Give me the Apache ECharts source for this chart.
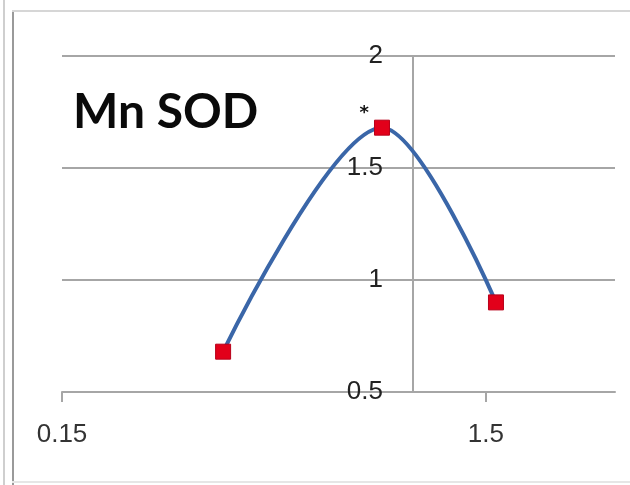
<!DOCTYPE html>
<html>
<head>
<meta charset="utf-8">
<script src="https://cdn.jsdelivr.net/npm/echarts@6/dist/echarts.min.js"></script>
<style>
html,body{margin:0;padding:0;background:#fff;}
#chart{width:630px;height:485px;}
</style>
</head>
<body>
<div id="chart"></div>
<script>
// Data
const titleText = 'Mn SOD';
const xTickValues = [0.15, 1.5];
const xValues = [0.663, 1.169, 1.532];
const yValues = [0.68, 1.68, 0.9];
const markedIndex = 1;      // point carrying the "*" marker
const yMin = 0.5, yMax = 2, yStep = 0.5;
const xMin = 0.15, xMax = 1.911;

const chart = echarts.init(document.getElementById('chart'), null, {renderer: 'canvas'});

const seriesData = xValues.map((x, i) => {
  const item = {value: [x, yValues[i]]};
  if (i === markedIndex) {
    item.label = {show: true, formatter: '*', position: 'left', offset: [0, -14],
      color: '#111', fontSize: 18, fontWeight: 'bold', fontFamily: 'DejaVu Sans'};
  }
  return item;
});

chart.setOption({
  backgroundColor: '#ffffff',
  animation: false,
  title: {
    text: titleText,
    left: 68, top: 84,
    textStyle: {fontFamily: 'Lato', fontWeight: 'bold', fontSize: 48, color: '#0a0a0a'}
  },
  grid: {left: 62, right: 15, top: 56, bottom: 93, containLabel: false},
  xAxis: {
    type: 'value',
    min: xMin, max: xMax,
    splitLine: {show: false},
    axisLine: {show: true, onZero: false, lineStyle: {color: '#a6a6a6', width: 2}},
    axisTick: {show: true, customValues: xTickValues, length: 10, lineStyle: {color: '#a6a6a6', width: 2}},
    axisLabel: {show: true, customValues: xTickValues, margin: 30, color: '#333',
      fontSize: 26, fontFamily: 'Liberation Sans', formatter: v => String(v)}
  },
  yAxis: {
    type: 'value',
    min: yMin, max: yMax, interval: yStep,
    position: 'left',
    offset: -351,
    axisLine: {show: true, lineStyle: {color: '#a6a6a6', width: 2}},
    axisTick: {show: false},
    splitLine: {show: true, lineStyle: {color: '#a6a6a6', width: 2}},
    axisLabel: {show: true, margin: 30, color: '#222', fontSize: 26, fontFamily: 'Liberation Sans',
      formatter: v => String(v)}
  },
  series: [{
    type: 'line',
    data: seriesData,
    smooth: 0.32,
    symbol: 'rect',
    symbolSize: 15,
    itemStyle: {color: '#e2001a', borderColor: '#b8001a', borderWidth: 1},
    lineStyle: {color: '#3a66a8', width: 4},
    z: 5
  }],
  graphic: [
    {type: 'rect', shape: {x: 3, y: 0, width: 2, height: 485}, style: {fill: '#cfcfcf'}, silent: true},
    {type: 'rect', shape: {x: 12, y: 10, width: 2, height: 475}, style: {fill: '#9a9a9a'}, silent: true},
    {type: 'rect', shape: {x: 12, y: 10, width: 618, height: 2}, style: {fill: '#d6d6d6'}, silent: true},
    {type: 'rect', shape: {x: 12, y: 481, width: 618, height: 2}, style: {fill: '#e6e6e6'}, silent: true}
  ]
});
</script>
</body>
</html>
